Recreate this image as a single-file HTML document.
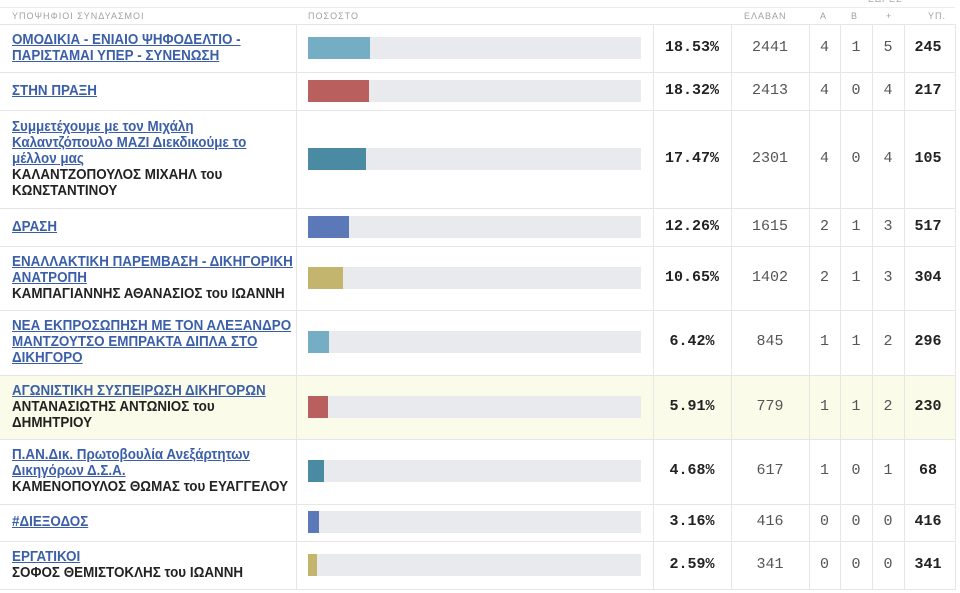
<!DOCTYPE html>
<html><head><meta charset="utf-8"><style>
body{margin:0;width:960px;height:593px;background:#fff;overflow:hidden;position:relative;font-family:"Liberation Sans",sans-serif}
.a{position:absolute}
.hl{position:absolute;left:0;width:955px;background:#fbfbea}
.hr{position:absolute;left:0;width:955px;height:1px;background:#e6e6e6}
.vr{position:absolute;width:1px;background:#e6e6e6}
.nm{position:absolute;left:12px;font-size:14.5px;line-height:16px;font-weight:bold;transform:scaleX(0.925);transform-origin:left top;white-space:nowrap;color:#222}
.nm u{color:#3a5ea8;text-decoration:underline;text-underline-offset:1px}
.bg{position:absolute;left:308px;width:333px;height:22px;background:#e9eaee}
.bf{position:absolute;left:308px;height:22px}
.n{position:absolute;font-family:"Liberation Mono",monospace;font-size:15px;text-align:center;color:#555;line-height:18px}
.p{font-weight:bold;color:#222}
.h{position:absolute;top:10px;font-size:9px;letter-spacing:1px;color:#a0a0a0;line-height:12px}
</style></head><body>
<div class="hl" style="top:375px;height:64px"></div>
<div class="a" style="left:0;top:7px;width:955px;height:1px;background:#ececec"></div>
<div class="a" style="left:868px;top:-6px;font-size:9px;color:#aaa;letter-spacing:1px">ΕΔΡΕΣ</div>
<div class="h" style="left:12px">ΥΠΟΨΗΦΙΟΙ ΣΥΝΔΥΑΣΜΟΙ</div>
<div class="h" style="left:308px">ΠΟΣΟΣΤΟ</div>
<div class="h" style="left:744px">ΕΛΑΒΑΝ</div>
<div class="h" style="left:820px">Α</div>
<div class="h" style="left:851px">Β</div>
<div class="h" style="left:886px">+</div>
<div class="h" style="left:928px">ΥΠ.</div>
<div class="hr" style="top:24px"></div><div class="hr" style="top:72px"></div><div class="hr" style="top:110px"></div><div class="hr" style="top:208px"></div><div class="hr" style="top:246px"></div><div class="hr" style="top:310px"></div><div class="hr" style="top:375px"></div><div class="hr" style="top:439px"></div><div class="hr" style="top:504px"></div><div class="hr" style="top:541px"></div><div class="hr" style="top:589px"></div>
<div class="vr" style="left:296px;top:24px;height:566px"></div><div class="vr" style="left:653px;top:24px;height:566px"></div><div class="vr" style="left:731px;top:24px;height:566px"></div><div class="vr" style="left:809px;top:24px;height:566px"></div><div class="vr" style="left:840px;top:24px;height:566px"></div><div class="vr" style="left:872px;top:24px;height:566px"></div><div class="vr" style="left:904px;top:24px;height:566px"></div><div class="vr" style="left:955px;top:24px;height:566px"></div>

<div class="nm" style="top:32px"><u>ΟΜΟΔΙΚΙΑ - ΕΝΙΑΙΟ ΨΗΦΟΔΕΛΤΙΟ -</u><br><u>ΠΑΡΙΣΤΑΜΑΙ ΥΠΕΡ - ΣΥΝΕΝΩΣΗ</u></div>
<div class="nm" style="top:83px"><u>ΣΤΗΝ ΠΡΑΞΗ</u></div>
<div class="nm" style="top:119px"><u>Συμμετέχουμε με τον Μιχάλη</u><br><u>Καλαντζόπουλο ΜΑΖΙ Διεκδικούμε το</u><br><u>μέλλον μας</u><br>ΚΑΛΑΝΤΖΟΠΟΥΛΟΣ ΜΙΧΑΗΛ του<br>ΚΩΝΣΤΑΝΤΙΝΟΥ</div>
<div class="nm" style="top:219px"><u>ΔΡΑΣΗ</u></div>
<div class="nm" style="top:254px"><u>ΕΝΑΛΛΑΚΤΙΚΗ ΠΑΡΕΜΒΑΣΗ - ΔΙΚΗΓΟΡΙΚΗ</u><br><u>ΑΝΑΤΡΟΠΗ</u><br>ΚΑΜΠΑΓΙΑΝΝΗΣ ΑΘΑΝΑΣΙΟΣ του ΙΩΑΝΝΗ</div>
<div class="nm" style="top:318px"><u>ΝΕΑ ΕΚΠΡΟΣΩΠΗΣΗ ΜΕ ΤΟΝ ΑΛΕΞΑΝΔΡΟ</u><br><u>ΜΑΝΤΖΟΥΤΣΟ ΕΜΠΡΑΚΤΑ ΔΙΠΛΑ ΣΤΟ</u><br><u>ΔΙΚΗΓΟΡΟ</u></div>
<div class="nm" style="top:383px"><u>ΑΓΩΝΙΣΤΙΚΗ ΣΥΣΠΕΙΡΩΣΗ ΔΙΚΗΓΟΡΩΝ</u><br>ΑΝΤΑΝΑΣΙΩΤΗΣ ΑΝΤΩΝΙΟΣ του<br>ΔΗΜΗΤΡΙΟΥ</div>
<div class="nm" style="top:447px"><u>Π.ΑΝ.Δικ. Πρωτοβουλία Ανεξάρτητων</u><br><u>Δικηγόρων Δ.Σ.Α.</u><br>ΚΑΜΕΝΟΠΟΥΛΟΣ ΘΩΜΑΣ του ΕΥΑΓΓΕΛΟΥ</div>
<div class="nm" style="top:514px"><u>#ΔΙΕΞΟΔΟΣ</u></div>
<div class="nm" style="top:549px"><u>ΕΡΓΑΤΙΚΟΙ</u><br>ΣΟΦΟΣ ΘΕΜΙΣΤΟΚΛΗΣ του ΙΩΑΝΝΗ</div>

<div class="bg" style="top:37px"></div><div class="bf" style="top:37px;width:62px;background:#74adc4"></div>
<div class="bg" style="top:80px"></div><div class="bf" style="top:80px;width:61px;background:#b9605e"></div>
<div class="bg" style="top:148px"></div><div class="bf" style="top:148px;width:58px;background:#4a8aa2"></div>
<div class="bg" style="top:216px"></div><div class="bf" style="top:216px;width:41px;background:#5b78b8"></div>
<div class="bg" style="top:267px"></div><div class="bf" style="top:267px;width:35px;background:#c4b56e"></div>
<div class="bg" style="top:331px"></div><div class="bf" style="top:331px;width:21px;background:#74adc4"></div>
<div class="bg" style="top:396px"></div><div class="bf" style="top:396px;width:20px;background:#b9605e"></div>
<div class="bg" style="top:460px"></div><div class="bf" style="top:460px;width:16px;background:#4a8aa2"></div>
<div class="bg" style="top:511px"></div><div class="bf" style="top:511px;width:11px;background:#5b78b8"></div>
<div class="bg" style="top:554px"></div><div class="bf" style="top:554px;width:9px;background:#c4b56e"></div>

<div id="nums"></div>
<script>
var rows=[[48,"18.53%",2441,4,1,5,245],[91,"18.32%",2413,4,0,4,217],[159,"17.47%",2301,4,0,4,105],[227,"12.26%",1615,2,1,3,517],[278,"10.65%",1402,2,1,3,304],[342,"6.42%",845,1,1,2,296],[407,"5.91%",779,1,1,2,230],[471,"4.68%",617,1,0,1,68],[522,"3.16%",416,0,0,0,416],[565,"2.59%",341,0,0,0,341]];
var cols=[[653,78,"p"],[731,78,""],[809,31,""],[840,32,""],[872,32,""],[904,51,"p"]];
var h="";rows.forEach(function(r){for(var i=0;i<6;i++){var c=cols[i];var left=c[0],w=c[1];if(i==5){w=48}h+='<div class="n '+c[2]+'" style="left:'+left+'px;width:'+w+'px;top:'+(r[0]-9)+'px">'+r[i+1]+'</div>';}});
document.getElementById("nums").innerHTML=h;
</script>
</body></html>
